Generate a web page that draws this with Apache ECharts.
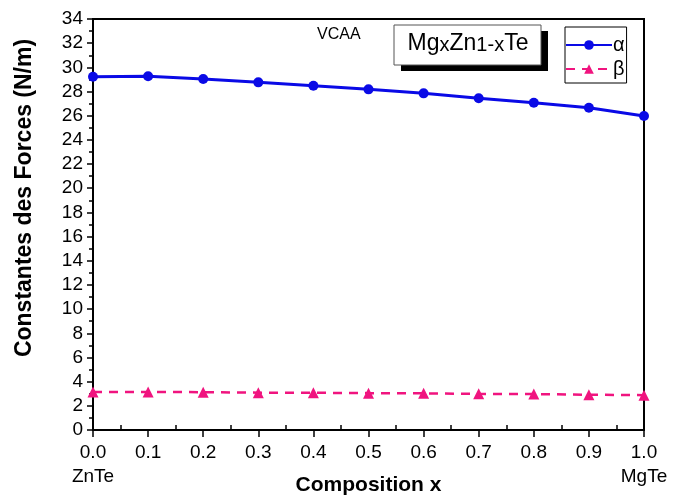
<!DOCTYPE html>
<html>
<head>
<meta charset="utf-8">
<script src="https://cdn.jsdelivr.net/npm/echarts@6/dist/echarts.min.js"></script>
<style>html,body{margin:0;padding:0;background:#fff}#c{width:679px;height:502px}</style>
</head>
<body>
<div id="c"></div>
<script>
const compositions = [0.0, 0.1, 0.2, 0.3, 0.4, 0.5, 0.6, 0.7, 0.8, 0.9, 1.0];
const alphaValues = [29.22, 29.27, 29.03, 28.76, 28.48, 28.18, 27.85, 27.44, 27.07, 26.66, 25.97];
const betaValues = [3.15, 3.15, 3.13, 3.09, 3.08, 3.05, 3.03, 2.99, 2.97, 2.92, 2.88];
const endLabels = {0: 'ZnTe', 1: 'MgTe'};
const seriesNames = ['α', 'β'];

const chart = echarts.init(document.getElementById('c'));
const font = 'Liberation Sans, Arial, sans-serif';
chart.setOption({
  animation: false,
  textStyle: {fontFamily: font},
  grid: {left: 93, right: 35, top: 19, bottom: 72, show: true, borderColor: '#000', borderWidth: 2, outerBoundsMode: 'none', containLabel: false},
  legend: {
    orient: 'vertical', left: 565, top: 27,
    data: seriesNames,
    itemWidth: 46, itemHeight: 12, itemGap: 4,
    borderColor: '#000', borderWidth: 1, backgroundColor: '#fff',
    padding: [8, 2, 4, 0],
    textStyle: {fontSize: 20, color: '#000', fontFamily: font, padding: [0, 0, 0, -4]}
  },
  xAxis: [{
    type: 'value', min: 0, max: 1, interval: 0.1,
    name: 'Composition x', nameLocation: 'middle', nameGap: 45, nameMoveOverlap: false,
    nameTextStyle: {fontSize: 21, fontWeight: 'bold', color: '#000'},
    axisLine: {lineStyle: {color: '#000', width: 2}},
    axisTick: {length: 7, lineStyle: {color: '#000', width: 1.5}},
    axisLabel: {
      fontSize: 19, color: '#000', margin: 11, lineHeight: 24,
      formatter: v => { const s = v.toFixed(1); const k = Math.round(v * 10) / 10; return endLabels[k] ? s + '\n' + endLabels[k] : s; }
    },
    splitLine: {show: false}
  }, {
    type: 'value', min: 0, max: 1, interval: 0.1, position: 'bottom',
    axisLine: {show: false}, axisLabel: {show: false}, splitLine: {show: false},
    axisTick: {show: false, inside: true},
    minorTick: {show: true, splitNumber: 2, length: 5, lineStyle: {color: '#000', width: 1.5}}
  }],
  yAxis: {
    type: 'value', min: 0, max: 34, interval: 2,
    axisLine: {show: true, lineStyle: {color: '#000', width: 2}},
    axisTick: {show: true, length: 6, lineStyle: {color: '#000', width: 1.5}},
    minorTick: {show: true, splitNumber: 2, length: 4, lineStyle: {color: '#000', width: 1.5}},
    axisLabel: {fontSize: 19, color: '#000', margin: 10},
    splitLine: {show: false}
  },
  graphic: [
    {type: 'text', x: 25, y: 198, rotation: Math.PI / 2,
     style: {text: 'Constantes des Forces (N/m)', fontSize: 23, fontWeight: 'bold', fill: '#000', fontFamily: font, align: 'center', verticalAlign: 'middle'}},
    {type: 'text', x: 317, y: 27,
     style: {text: 'VCAA', fontSize: 16, fill: '#000', fontFamily: font}},
    {type: 'rect', shape: {x: 401, y: 31, width: 147, height: 40}, style: {fill: '#000'}},
    {type: 'rect', shape: {x: 394, y: 25, width: 147, height: 40}, style: {fill: '#fff', stroke: '#555', lineWidth: 1}},
    {type: 'text', x: 468, y: 44,
     style: {
       text: '{a|Mg}{b|x}{a|Zn}{b|1-x}{a|Te}', align: 'center', verticalAlign: 'middle', fontFamily: font,
       rich: {
         a: {fontSize: 23, lineHeight: 23, verticalAlign: 'top', fill: '#000', fontFamily: font},
         b: {fontSize: 20, lineHeight: 20, padding: [17, 0, 0, 0], verticalAlign: 'bottom', fill: '#000', fontFamily: font}
       }
     }}
  ],
  series: [{
    name: seriesNames[0], type: 'line', xAxisIndex: 0,
    data: compositions.map((c, i) => [c, alphaValues[i]]),
    symbol: 'circle', symbolSize: 10,
    lineStyle: {color: '#0a0ae6', width: 3},
    itemStyle: {color: '#0a0ae6'}
  }, {
    name: seriesNames[1], type: 'line', xAxisIndex: 0,
    data: compositions.map((c, i) => [c, betaValues[i]]),
    symbol: 'triangle', symbolSize: 11,
    lineStyle: {color: '#f0147f', width: 2.5, type: [9, 7]},
    itemStyle: {color: '#f0147f'}
  }]
});
</script>
</body>
</html>
